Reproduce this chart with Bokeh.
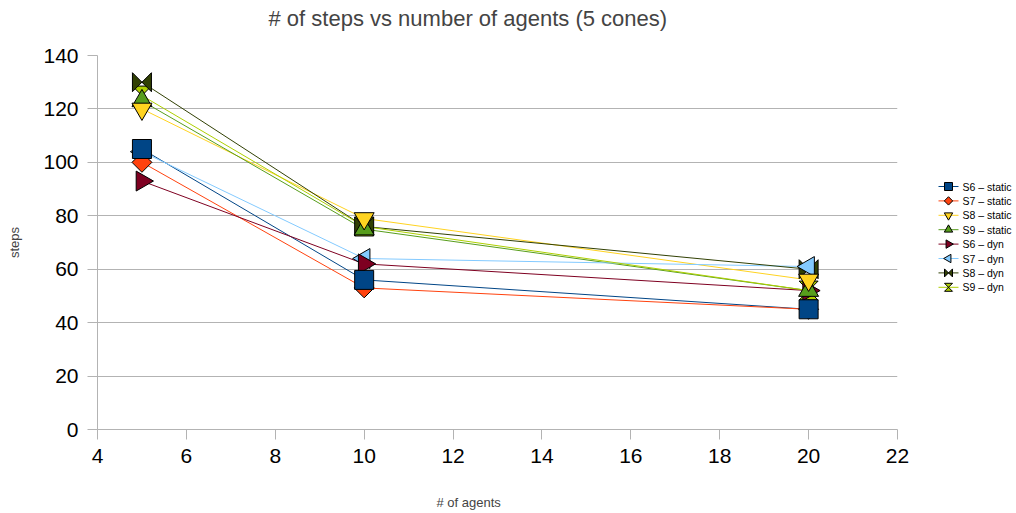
import numpy as np
from bokeh.plotting import figure
from bokeh.layouts import row
from bokeh.models import Title, SingleIntervalTicker, Range1d
from bokeh.core.properties import value
from bokeh.embed import file_html
from bokeh.resources import INLINE

# ---- data ----
agents = [5, 10, 20]
s6_static = [105, 56, 45]
s7_static = [100, 53, 45]
s8_static = [120, 79, 56]
s9_static = [123, 75, 52]
s6_dyn = [93, 62, 52]
s7_dyn = [104, 64, 61]
s8_dyn = [130, 76, 60]
s9_dyn = [125, 76, 52]

names = ["S6 \u2013 static", "S7 \u2013 static", "S8 \u2013 static", "S9 \u2013 static",
         "S6 \u2013 dyn", "S7 \u2013 dyn", "S8 \u2013 dyn", "S9 \u2013 dyn"]
values = [s6_static, s7_static, s8_static, s9_static, s6_dyn, s7_dyn, s8_dyn, s9_dyn]
colors = ["#004586", "#ff420e", "#ffd320", "#579d1c",
          "#7e0021", "#83caff", "#314004", "#aecf00"]
shapes = ["square", "diamond", "down", "up", "right", "left", "bowtie", "hourglass"]

TITLE = "# of steps  vs number of agents (5 cones)"
XLABEL = "# of agents"
YLABEL = "steps"

FONT = "Liberation Sans"
X0, X1, Y0, Y1 = 4, 22, 0, 140
FW, FH = 800, 374
TOP, LEFT = 55, 97
BOTTOM = 513 - TOP - FH

p = figure(frame_width=FW, frame_height=FH, output_backend="svg", toolbar_location=None,
           x_range=Range1d(X0, X1), y_range=Range1d(Y0, Y1),
           min_border_left=LEFT, min_border_right=33, min_border_top=TOP, min_border_bottom=BOTTOM)
p.outline_line_color = None
p.background_fill_color = "white"

# title: a blank second line lifts the text away from the frame
p.title.text = TITLE + "\n "
p.title.text_font = FONT
p.title.text_font_size = "22px"
p.title.text_font_style = "normal"
p.title.align = "left"
p.title.vertical_align = "bottom"
p.title.offset = 171
p.title.standoff = 0

p.xaxis.ticker = SingleIntervalTicker(interval=2)
p.yaxis.ticker = SingleIntervalTicker(interval=20)
for ax in (p.xaxis, p.yaxis):
    ax.axis_line_color = "#b3b3b3"
    ax.major_tick_line_color = "#b3b3b3"
    ax.minor_tick_line_color = None
    ax.major_tick_out = 10
    ax.major_tick_in = 0
    ax.major_label_text_font = FONT
    ax.major_label_text_font_size = "21px"
    ax.major_label_text_color = "black"
    ax.major_label_standoff = 9
p.yaxis.axis_label = YLABEL
p.yaxis.axis_label_text_font = FONT
p.yaxis.axis_label_text_font_size = "13px"
p.yaxis.axis_label_text_font_style = "normal"
p.yaxis.axis_label_standoff = 18
p.xgrid.grid_line_color = None
p.ygrid.grid_line_color = "#b3b3b3"

# x-axis title placed lower via blank leading lines
xlab = Title(text=" \n \n" + XLABEL, align="left", vertical_align="bottom", offset=339,
             text_font=FONT, text_font_size="13px", text_font_style="normal",
             standoff=0, text_line_height=0.93)
p.add_layout(xlab, "below")


def draw_series(fig, xs_, ys_, shape, color, size, half_x, half_y):
    kw = dict(fill_color=color, line_color="black", line_width=1)
    if shape == "square":
        fig.scatter(xs_, ys_, marker="square", size=size, **kw)
    elif shape == "diamond":
        fig.scatter(xs_, ys_, marker="square", angle=np.pi / 4, size=size * 0.74, **kw)
    elif shape == "down":
        fig.scatter(xs_, ys_, marker="inverted_triangle", size=size * 1.05, **kw)
    elif shape == "up":
        fig.scatter(xs_, ys_, marker="triangle", size=size * 1.05, **kw)
    elif shape == "right":
        fig.scatter(xs_, ys_, marker="triangle", angle=-np.pi / 2, size=size * 1.05, **kw)
    elif shape == "left":
        fig.scatter(xs_, ys_, marker="triangle", angle=np.pi / 2, size=size * 1.05, **kw)
    else:
        xa = np.asarray(xs_, dtype=float)
        ya = np.asarray(ys_, dtype=float)
        if shape == "bowtie":
            px = [[x - half_x, x - half_x, x + half_x, x + half_x] for x in xa]
            py = [[y + half_y, y - half_y, y + half_y, y - half_y] for y in ya]
        else:
            px = [[x - half_x, x + half_x, x - half_x, x + half_x] for x in xa]
            py = [[y + half_y, y + half_y, y - half_y, y - half_y] for y in ya]
        fig.patches(px, py, **kw)


# lines
for v, c in zip(values, colors):
    p.line(agents, v, line_color=c, line_width=1)

# markers (first series drawn on top)
hx = 9.5 * (X1 - X0) / FW
hy = 9.5 * (Y1 - Y0) / FH
for i in reversed(range(8)):
    draw_series(p, agents, values[i], shapes[i], colors[i], 19, hx, hy)

# ---- legend panel: its frame is aligned with the main frame; y in page pixels ----
LW = 86
lg = figure(width=LW, height=513, output_backend="svg", toolbar_location=None,
            x_range=Range1d(0, LW), y_range=Range1d(TOP + FH, TOP), min_border=0)
lg.axis.visible = False
lg.grid.grid_line_color = None
lg.outline_line_color = None

LEG_TOP, LEG_STEP = 186, 14.4
leg_y = [LEG_TOP + LEG_STEP * i for i in range(8)]
for i in range(8):
    lg.line([8, 28], [leg_y[i], leg_y[i]], line_color=colors[i], line_width=1)
    draw_series(lg, [18], [leg_y[i]], shapes[i], colors[i], 8, 4, 4)
lg.text([32] * 8, leg_y, text=names,
        text_baseline="middle", text_align="left", text_font=value(FONT),
        text_font_size="10.5px", text_color="black")

layout = row(p, lg)
open("out.html", "w").write(file_html(layout, INLINE))
